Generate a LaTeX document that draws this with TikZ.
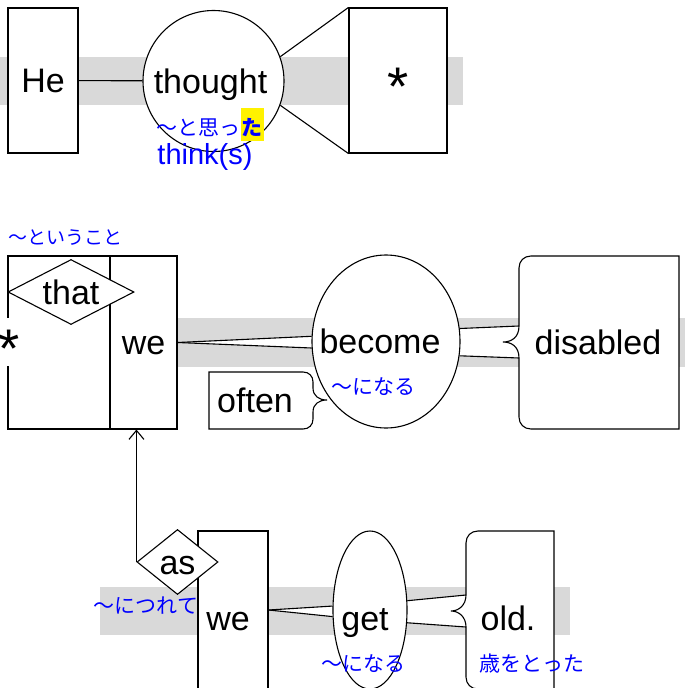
\documentclass[tikz,border=0pt]{standalone}
\usepackage{fontspec}
\setmainfont{Liberation Sans}
\newfontfamily\jpfont{Noto Sans CJK JP}
\usepackage{graphicx}
\usepackage{tikz}
\usetikzlibrary{shapes.geometric, arrows.meta, backgrounds, positioning}
\setlength{\fboxsep}{1pt}
\tikzstyle{word} = [draw, fill=white, line width=1.1pt, inner sep=0pt, font=\fontsize{34}{40}\selectfont, text height=24.5pt, text depth=0pt]
\tikzstyle{lowrow} = [text height=40pt]
\tikzstyle{boxw} = [word, rectangle]
\tikzstyle{verb} = [word, ellipse]
\tikzstyle{conj} = [word, diamond, aspect=1.6]
\tikzstyle{plain} = [inner sep=0pt, font=\fontsize{34}{40}\selectfont, text height=24.5pt, text depth=0pt]
\tikzstyle{gloss} = [text=blue, inner sep=0pt, font=\jpfont\fontsize{21}{24}\selectfont]
\tikzstyle{band} = [fill=black!15]
\tikzstyle{link} = [line width=1.1pt]
\tikzstyle{arrow} = [line width=1.1pt, ->, >={Straight Barb[length=9pt, width=15pt]}]
\newcommand{\bigstar}{\raisebox{-13pt}{\scalebox{1.6}{*}}}

\begin{document}
\begin{tikzpicture}[x=1pt, y=-1pt]
\useasboundingbox (0,0) rectangle (685,688);
\clip (0,0) rectangle (685,688);

\coordinate (dis-top) at (519,326);
\coordinate (dis-bot) at (519,358);
\coordinate (old-top) at (466,595);
\coordinate (old-bot) at (466,627);

\node[boxw, minimum width=70pt, minimum height=145pt] (he) at (43,80.5) {He};
\node[word, circle, minimum size=141pt] (thought) at (213.5,81) {\makebox[0pt]{\hspace*{-6pt}thought}};
\node[boxw, minimum width=98pt, minimum height=145pt] (obj) at (398,80.5) {\bigstar};

\draw[link, fill=white] (209,372) -- (303,372) .. controls (309,372) and (313,376) .. (313,382) -- (313,388) .. controls +(0,8) and +(-8,0) .. (327,400) .. controls +(-8,0) and +(0,-8) .. (313,412) -- (313,419) .. controls (313,425) and (309,429) .. (303,429) -- (209,429) -- cycle;
\draw[link, fill=white] (679,256) -- (531,256) .. controls (524,256) and (519,261) .. (519,268) -- (dis-top) .. controls +(0,11) and +(9,0) .. (503,342) .. controls +(9,0) and +(0,-11) .. (dis-bot) -- (519,417) .. controls (519,424) and (524,429) .. (531,429) -- (679,429) -- cycle;
\draw[link, fill=white] (554,531) -- (478,531) .. controls (471,531) and (466,536) .. (466,543) -- (old-top) .. controls +(0,10) and +(8,0) .. (451,611) .. controls +(8,0) and +(0,-10) .. (old-bot) -- (466,677) .. controls (466,684) and (471,689) .. (478,689) -- (554,689) -- cycle;

\node[boxw, minimum width=102pt, minimum height=173pt] (clause) at (59,342.5) {};
\node[boxw, minimum width=67pt, minimum height=173pt] (we1) at (143.5,342.5) {we};
\node[conj, minimum width=126pt, minimum height=65pt] (that) at (71,292) {that};
\node[plain, fill=white, minimum height=48pt] (star) at (9,342) {\bigstar};
\node[verb, minimum width=148pt, minimum height=173pt] (become) at (386,341.5) {\makebox[0pt]{\hspace*{-12pt}become}};
\node[plain] (disabled) at (598,342.5) {disabled};
\node[plain] (often) at (255,400.5) {often};

\node[boxw, lowrow, minimum width=70pt, minimum height=158pt] (we2) at (233,610) {\makebox[0pt]{\hspace*{-10pt}we}};
\node[verb, lowrow, minimum width=74pt, minimum height=158pt] (get) at (370,610) {\makebox[0pt]{\hspace*{-10pt}get}};
\node[plain, lowrow] (old) at (508,610) {old.};
\node[conj, minimum width=81pt, minimum height=65pt] (as) at (177.5,562) {as};

\begin{scope}[on background layer]
\fill[band] (0,57) rectangle (463,105);
\fill[band] (177,318) rectangle (685,367);
\fill[band] (100,587) rectangle (570,635);
\fill[white] (we1.east) -- (become.176) -- (become.185) -- cycle;
\fill[white] (become.10) -- (dis-top) .. controls +(0,11) and +(9,0) .. (503,342) .. controls +(9,0) and +(0,-11) .. (dis-bot) -- (become.-11) -- cycle;
\fill[white] (we2.east) -- (get.174) -- (get.190) -- cycle;
\fill[white] (get.14) -- (old-top) .. controls +(0,10) and +(8,0) .. (451,611) .. controls +(8,0) and +(0,-10) .. (old-bot) -- (get.-19) -- cycle;
\end{scope}

\draw[link] (he) -- (thought);
\draw[link] (thought.20) -- (obj.north west);
\draw[link] (thought.-20) -- (obj.south west);
\draw[link] (we1.east) -- (become.176);
\draw[link] (we1.east) -- (become.185);
\draw[link] (become.10) -- (dis-top);
\draw[link] (become.-11) -- (dis-bot);
\draw[link] (we2.east) -- (get.174);
\draw[link] (we2.east) -- (get.190);
\draw[link] (get.14) -- (old-top);
\draw[link] (get.-19) -- (old-bot);
\draw[arrow] (as.west) -- (as.west |- we1.south);

\node[gloss, anchor=base] (thought-ja) at (210,135) {〜と思っ\colorbox{yellow}{\rule[-5pt]{0pt}{31pt}\bfseries た}};
\node[gloss, font=\fontsize{29}{33}\selectfont] (thought-en) at (205,157) {think(s)};
\node[gloss, font=\jpfont\fontsize{19}{22}\selectfont] (that-ja) at (66,238) {〜ということ};
\node[gloss] (become-ja) at (373,387) {〜になる};
\node[gloss] (as-ja) at (146,606) {〜につれて};
\node[gloss] (get-ja) at (363,664) {〜になる};
\node[gloss] (old-ja) at (532,664) {歳をとった};
\end{tikzpicture}
\end{document}
